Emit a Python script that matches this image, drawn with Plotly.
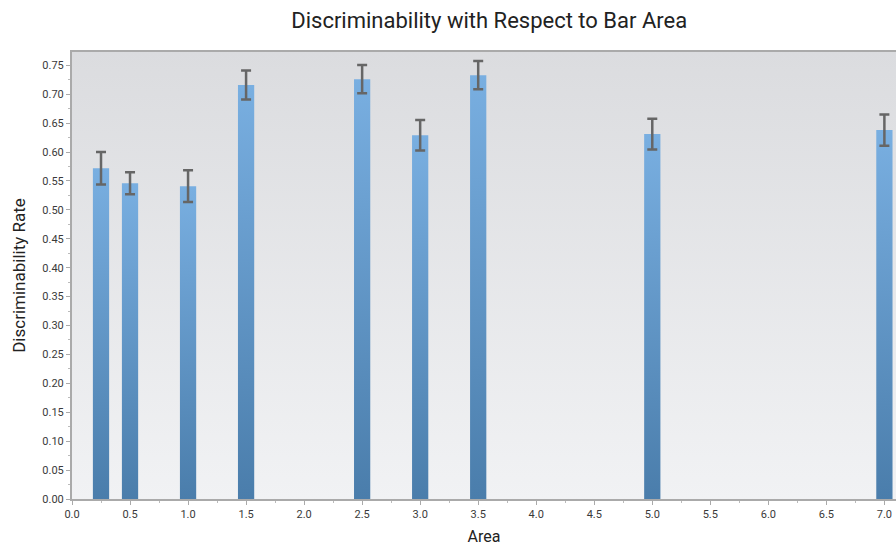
import plotly.graph_objects as go

# Mean discriminability rate per bar area, with error margins
area = [0.25, 0.5, 1.0, 1.5, 2.5, 3.0, 3.5, 5.0, 7.0]
rate = [0.572, 0.546, 0.541, 0.716, 0.726, 0.629, 0.733, 0.631, 0.638]
err = [0.028, 0.019, 0.0275, 0.025, 0.0245, 0.0265, 0.0245, 0.0265, 0.027]

BAR_W = 0.14
X_RANGE = [0, 7.1]
Y_RANGE = [0, 0.773]
FONT = "Roboto"

fig = go.Figure()

# Plot-area background with a soft vertical gradient
fig.add_trace(go.Scatter(
    x=[X_RANGE[0], X_RANGE[1], X_RANGE[1], X_RANGE[0], X_RANGE[0]],
    y=[Y_RANGE[0], Y_RANGE[0], Y_RANGE[1], Y_RANGE[1], Y_RANGE[0]],
    mode="lines", line=dict(width=0), fill="toself",
    fillgradient=dict(type="vertical",
                      colorscale=[[0, "#f1f2f4"], [1, "#dbdcdf"]]),
    hoverinfo="skip", showlegend=False,
))

# Bars with a blue vertical gradient
for a, v in zip(area, rate):
    x0, x1 = a - BAR_W / 2, a + BAR_W / 2
    fig.add_trace(go.Scatter(
        x=[x0, x1, x1, x0, x0],
        y=[0, 0, v, v, 0],
        mode="lines", line=dict(width=0), fill="toself",
        fillgradient=dict(type="vertical",
                          colorscale=[[0, "#4a7dab"], [1, "#79afe1"]]),
        hoverinfo="skip", showlegend=False,
    ))

# Error bars
fig.add_trace(go.Scatter(
    x=area, y=rate, mode="markers",
    marker=dict(size=1, opacity=0),
    error_y=dict(type="data", array=err, visible=True,
                 color="#666666", thickness=2.5, width=5),
    showlegend=False,
))

axis_common = dict(
    showgrid=False, zeroline=False,
    showline=True, linecolor="#aaaaaa", linewidth=2,
    ticks="outside", ticklen=4, tickcolor="#aaaaaa", tickwidth=1,
    tickfont=dict(family=FONT, size=11, color="#3a3a3a"),
)

fig.update_layout(
    width=896, height=546,
    margin=dict(l=72, r=0, t=52, b=47),
    paper_bgcolor="white", plot_bgcolor="white",
    title=dict(text="Discriminability with Respect to Bar Area",
               xref="container", x=0.546, xanchor="center",
               y=0.962, yanchor="middle",
               font=dict(family=FONT, size=22, color="#222222")),
    xaxis=dict(
        range=X_RANGE, tickmode="linear", tick0=0, dtick=0.5,
        tickformat=".1f", mirror=True,
        minor=dict(ticks="outside", ticklen=2, dtick=0.25, tickcolor="#bbbbbb"),
        title=dict(text="Area", standoff=11,
                   font=dict(family=FONT, size=16, color="#222222")),
        **axis_common,
    ),
    yaxis=dict(
        range=Y_RANGE, tickmode="linear", tick0=0, dtick=0.05,
        tickformat=".2f",
        minor=dict(ticks="outside", ticklen=2, dtick=0.025, tickcolor="#bbbbbb"),
        title=dict(text="Discriminability Rate", standoff=12,
                   font=dict(family=FONT, size=17, color="#222222")),
        **axis_common,
    ),
)

fig.write_html("out.html")
